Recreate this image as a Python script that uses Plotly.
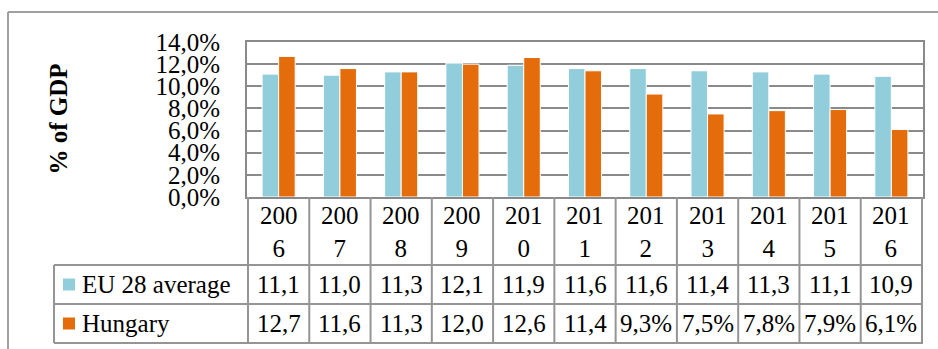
import plotly.graph_objects as go

# ---- data ----
years = ["2006", "2007", "2008", "2009", "2010", "2011", "2012", "2013", "2014", "2015", "2016"]
eu_avg = [11.1, 11.0, 11.3, 12.1, 11.9, 11.6, 11.6, 11.4, 11.3, 11.1, 10.9]
hungary = [12.7, 11.6, 11.3, 12.0, 12.6, 11.4, 9.3, 7.5, 7.8, 7.9, 6.1]
series_names = ["EU 28 average", "Hungary"]
y_title = "% of GDP"

# ---- style ----
W, H = 938, 349
L, R, T, B = 247, 923, 42, 197      # plot area in pixels
FONT = "Liberation Serif"
FS = 25
C_EU = "#92CDDC"
C_HU = "#E46C0A"
GRID = "#8a8a8a"
TBL = "#959595"

pw, ph = R - L, B - T
def px(x):
    return (x - L) / pw
def py(y):
    return (B - y) / ph

fig = go.Figure()
fig.add_bar(x=years, y=eu_avg, name=series_names[0], marker=dict(color=C_EU, line=dict(color="white", width=1)))
fig.add_bar(x=years, y=hungary, name=series_names[1], marker=dict(color=C_HU, line=dict(color="white", width=1)))

shapes = []
annotations = []

# table geometry (pixels)
row_lines = [265, 304, 343]
tbl_bottom = row_lines[-1]
leg_left = 54

# vertical column lines on category boundaries
for i in range(len(years) + 1):
    shapes.append(dict(type="line", xref="x", yref="paper", x0=i - 0.5, x1=i - 0.5,
                       y0=py(tbl_bottom), y1=0, line=dict(color=TBL, width=2)))
# horizontal lines
for yy in row_lines:
    shapes.append(dict(type="line", xref="paper", yref="paper", x0=px(leg_left), x1=1,
                       y0=py(yy), y1=py(yy), line=dict(color=TBL, width=2)))
# legend column left line
shapes.append(dict(type="line", xref="paper", yref="paper", x0=px(leg_left), x1=px(leg_left),
                   y0=py(tbl_bottom), y1=py(row_lines[0]), line=dict(color=TBL, width=2)))
# outer frame (left and top)
shapes.append(dict(type="line", xref="paper", yref="paper", x0=px(8), x1=px(8),
                   y0=py(H + 5), y1=py(12), line=dict(color="#a0a0a0", width=2)))
shapes.append(dict(type="line", xref="paper", yref="paper", x0=px(8), x1=px(W + 5),
                   y0=py(12), y1=py(12), line=dict(color="#a0a0a0", width=2)))

def cell_text(v):
    return (f"{v:.1f}%".replace(".", ","))[:4]

header_mid = (B + row_lines[0]) / 2
row_mids = [(row_lines[0] + row_lines[1]) / 2, (row_lines[1] + row_lines[2]) / 2]

for i, yr in enumerate(years):
    annotations.append(dict(xref="x", yref="paper", x=i, y=py(header_mid + 1),
                            xanchor="center", yanchor="middle",
                            text=yr[:3] + "<br>" + yr[3:], showarrow=False,
                            font=dict(family=FONT, size=FS, color="black")))
    for vals, ym in zip([eu_avg, hungary], row_mids):
        annotations.append(dict(xref="x", yref="paper", x=i, y=py(ym),
                                xanchor="center", yanchor="middle",
                                text=cell_text(vals[i]), showarrow=False,
                                font=dict(family=FONT, size=FS, color="black")))

# legend keys and labels in the table
for name, col, ym in zip(series_names, [C_EU, C_HU], row_mids):
    shapes.append(dict(type="rect", xref="paper", yref="paper", x0=px(63), x1=px(75),
                       y0=py(ym + 6), y1=py(ym - 6), fillcolor=col, line=dict(width=0)))
    annotations.append(dict(xref="paper", yref="paper", x=px(80), y=py(ym),
                            xanchor="left", yanchor="middle",
                            text=name, showarrow=False,
                            font=dict(family=FONT, size=FS, color="black")))

# y-axis title
annotations.append(dict(xref="paper", yref="paper", x=px(58), y=py((T + B) / 2),
                        xanchor="center", yanchor="middle",
                        text="<b>" + y_title + "</b>", textangle=-90, showarrow=False,
                        font=dict(family=FONT, size=FS, color="black")))

fig.update_layout(
    width=W, height=H,
    margin=dict(l=L, r=W - R, t=T, b=H - B, pad=0),
    paper_bgcolor="white", plot_bgcolor="white",
    barmode="group", bargap=0.46, bargroupgap=0,
    showlegend=False,
    separators=", ",
    font=dict(family=FONT, size=FS, color="black"),
    shapes=shapes, annotations=annotations,
)
fig.update_xaxes(type="category", showticklabels=False, ticks="", showgrid=False,
                 showline=True, linecolor=GRID, linewidth=2, mirror=True, zeroline=False)
fig.update_yaxes(range=[0, 14], dtick=2, tickformat=".1f", ticksuffix="%",
                 showgrid=True, gridcolor=GRID, gridwidth=2,
                 showline=True, linecolor=GRID, linewidth=2, mirror=True, zeroline=False,
                 ticks="", ticklabelstandoff=20,
                 tickfont=dict(family=FONT, size=FS, color="black"))

fig.write_html("out.html")
